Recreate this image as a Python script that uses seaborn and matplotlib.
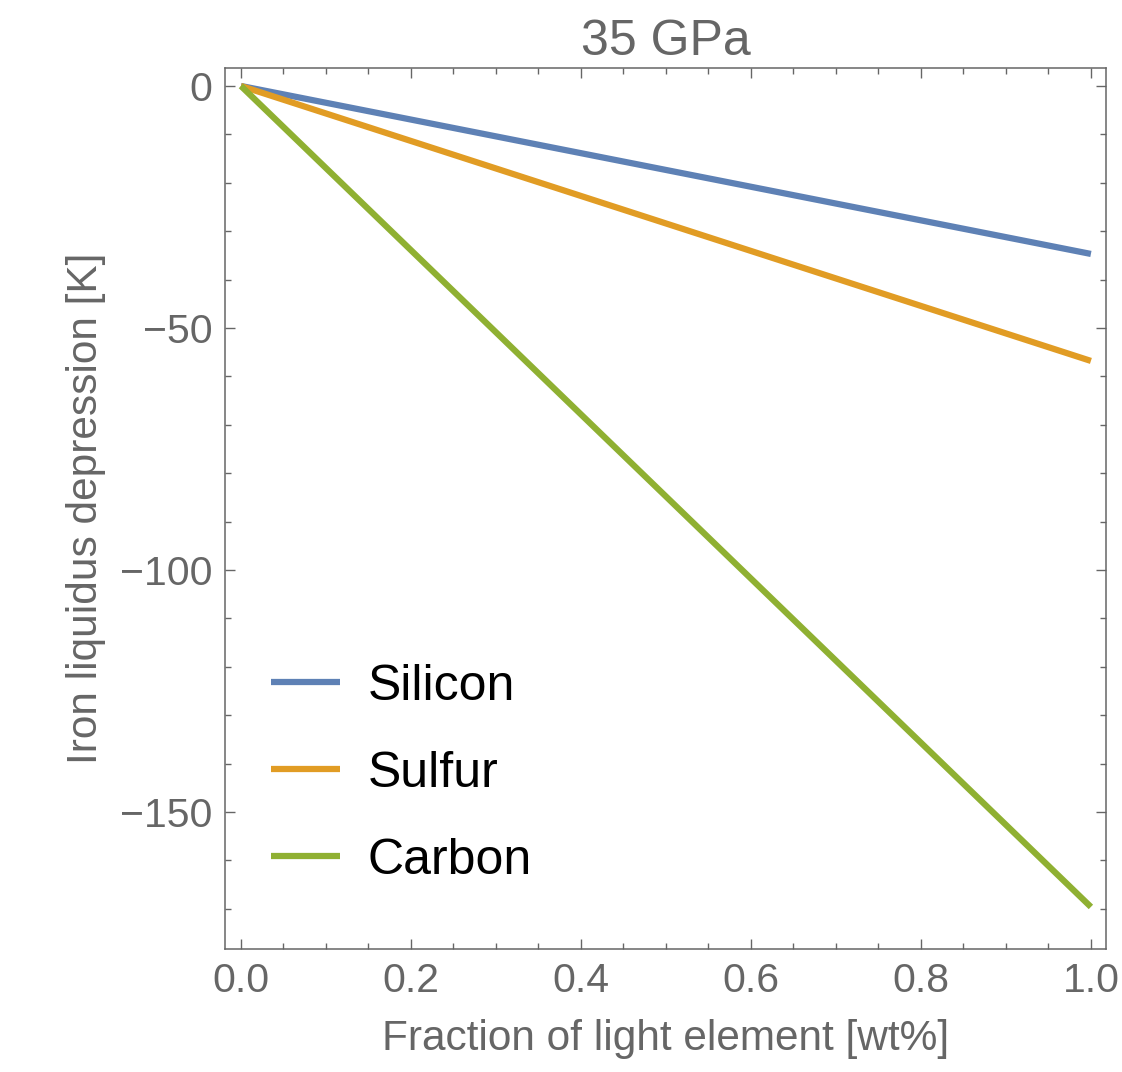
import pandas as pd
import matplotlib
matplotlib.use('Agg')
import matplotlib.pyplot as plt
import seaborn as sns
from matplotlib.ticker import MultipleLocator

sns.set_style('ticks')
plt.rcParams['font.family'] = ['Liberation Sans', 'DejaVu Sans']

# data: straight lines from 0 to 1 wt%
elements = ['Silicon', 'Sulfur', 'Carbon']
fraction = [0.0, 1.0]
silicon = [0.0, -34.7]
sulfur = [0.0, -56.8]
carbon = [0.0, -169.6]
colors = ['#5E81B5', '#E19C24', '#8FB032']

df = pd.DataFrame({
    'Fraction': fraction * 3,
    'Depression': silicon + sulfur + carbon,
    'Element': [e for e in elements for _ in fraction],
})

gray = '#666666'
lw = 4.5
fig = plt.figure(figsize=(11.22, 10.72), dpi=100)
ax = fig.add_axes([0.2005, 0.1147, 0.7852, 0.8219])

sns.lineplot(data=df, x='Fraction', y='Depression', hue='Element',
             hue_order=elements, palette=colors, ax=ax)
for ln in ax.lines:
    ln.set_linewidth(lw)
    ln.set_solid_capstyle('butt')

ax.set_xlim(-0.0188, 1.0177)
ax.set_ylim(-178.3, 3.72)

ax.xaxis.set_major_locator(MultipleLocator(0.2))
ax.xaxis.set_minor_locator(MultipleLocator(0.05))
ax.yaxis.set_major_locator(MultipleLocator(50))
ax.yaxis.set_minor_locator(MultipleLocator(10))
ax.xaxis.set_major_formatter(plt.FuncFormatter(lambda v, p: f'{v:.1f}'))

ax.tick_params(which='both', direction='in', top=True, right=True,
               color=gray, labelcolor=gray, labelsize=29.5)
ax.tick_params(which='major', length=7.5, width=1.0)
ax.tick_params(which='minor', length=4.5, width=1.0)
ax.tick_params(axis='x', which='major', pad=9)
ax.tick_params(axis='y', which='major', pad=9)
ax.tick_params(labeltop=False, labelright=False)

for s in ax.spines.values():
    s.set_color(gray)
    s.set_linewidth(1.1)

ax.set_xlabel('Fraction of light element [wt%]', fontsize=30.5, color=gray, labelpad=14)
ax.set_ylabel('Iron liquidus depression [K]', fontsize=30.5, color=gray, labelpad=10)
ax.set_title('35 GPa', fontsize=36, color=gray, pad=9)

leg = ax.legend(loc='upper left', bbox_to_anchor=(0.052, 0.324), frameon=False,
                fontsize=36, handlelength=1.38, handletextpad=0.56, labelspacing=0.82,
                borderaxespad=0, borderpad=0, labelcolor='black')
for ln in leg.get_lines():
    ln.set_linewidth(lw)
    ln.set_solid_capstyle('butt')

fig.savefig('out.png', dpi=100)
